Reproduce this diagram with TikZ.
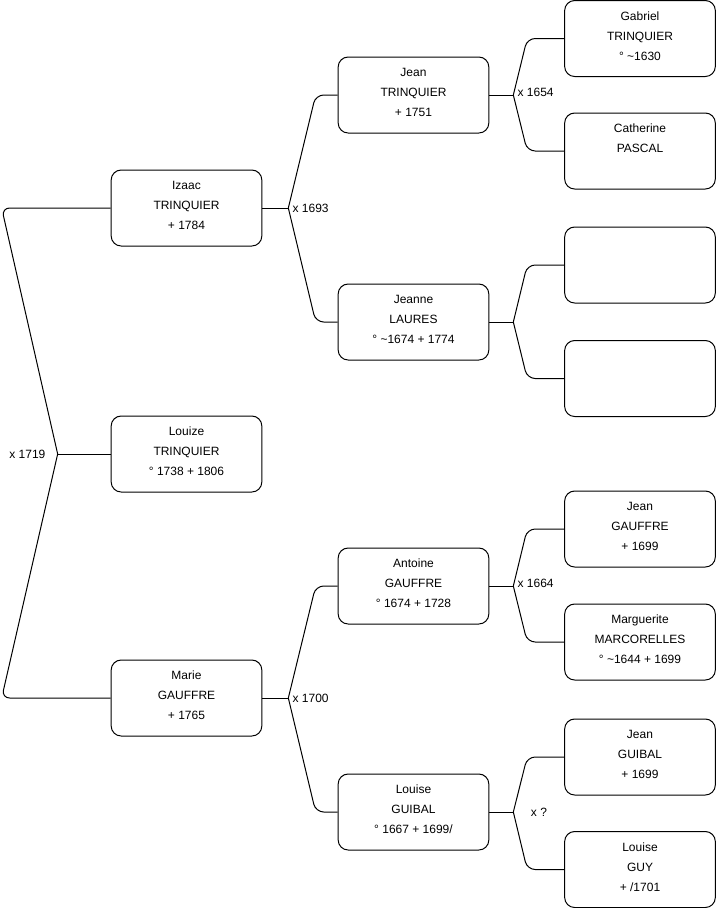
\documentclass[tikz,border=0pt]{standalone}
\usepackage{fontspec}
\setmainfont{Liberation Sans}
\begin{document}
\begin{tikzpicture}[x=0.75pt,y=-0.75pt,
    person/.style={draw,rounded corners=7.5pt,minimum width=113pt,minimum height=57pt,
      align=center,font=\fontsize{9}{15}\selectfont,text depth=4pt,line width=0.75pt},
    branch/.style={rounded corners=6pt,line width=0.75pt},
    union/.style={font=\fontsize{9}{11}\selectfont,inner sep=3pt}]
    \useasboundingbox (0,0) rectangle (716,908);
    % generation 1
    \node[person] (louize) at (186.5,454) {Louize\\TRINQUIER\\° 1738 + 1806};
    \node[person] (izaac) at (186.5,208) {Izaac\\TRINQUIER\\+ 1784};
    \node[person] (marie) at (186.5,698) {Marie\\GAUFFRE\\+ 1765};
    % generation 2
    \node[person] (jean) at (413.5,95) {Jean\\TRINQUIER\\+ 1751};
    \node[person] (jeanne) at (413.5,322) {Jeanne\\LAURES\\° \textasciitilde1674 + 1774};
    \node[person] (antoine) at (413.5,586) {Antoine\\GAUFFRE\\° 1674 + 1728};
    \node[person] (louiseg) at (413.5,812) {Louise\\GUIBAL\\° 1667 + 1699/};
    % generation 3
    \node[person] (gabriel) at (640,38.5) {Gabriel\\TRINQUIER\\° \textasciitilde1630};
    \node[person] (catherine) at (640,151) {Catherine\\PASCAL\\\mbox{}};
    \node[person] (unknowna) at (640,265) {};
    \node[person] (unknownb) at (640,378.5) {};
    \node[person] (jeang) at (640,529) {Jean\\GAUFFRE\\+ 1699};
    \node[person] (marguerite) at (640,642) {Marguerite\\MARCORELLES\\° \textasciitilde1644 + 1699};
    \node[person] (jeangb) at (640,757) {Jean\\GUIBAL\\+ 1699};
    \node[person] (louiseguy) at (640,869.5) {Louise\\GUY\\+ /1701};

    % parents of Louize
    \draw[line width=0.75pt] (louize.west) -- ++(-53,0) coordinate (r0);
    \draw[branch] (r0) -- ([xshift=-81.75pt]izaac.west) -- (izaac.west);
    \draw[branch] (r0) -- ([xshift=-81.75pt]marie.west) -- (marie.west);
    \node[union,left=6pt] (u0) at (r0) {x 1719};

    % parents of Izaac
    \draw[line width=0.75pt] (izaac.east) -- ++(26,0) coordinate (r1);
    \draw[branch] (r1) -- ([xshift=-16.5pt]jean.west) -- (jean.west);
    \draw[branch] (r1) -- ([xshift=-16.5pt]jeanne.west) -- (jeanne.west);
    \node[union,right] (u1) at (r1) {x 1693};

    % parents of Marie
    \draw[line width=0.75pt] (marie.east) -- ++(26,0) coordinate (r2);
    \draw[branch] (r2) -- ([xshift=-16.5pt]antoine.west) -- (antoine.west);
    \draw[branch] (r2) -- ([xshift=-16.5pt]louiseg.west) -- (louiseg.west);
    \node[union,right] (u2) at (r2) {x 1700};

    % parents of Jean
    \draw[line width=0.75pt] (jean.east) -- ++(24,0) coordinate (r3);
    \draw[branch] (r3) -- ([xshift=-27.75pt]gabriel.west) -- (gabriel.west);
    \draw[branch] (r3) -- ([xshift=-27.75pt]catherine.west) -- (catherine.west);
    \node[union,right,yshift=2pt] (u3) at (r3) {x 1654};

    % parents of Jeanne
    \draw[line width=0.75pt] (jeanne.east) -- ++(24,0) coordinate (r4);
    \draw[branch] (r4) -- ([xshift=-27.75pt]unknowna.west) -- (unknowna.west);
    \draw[branch] (r4) -- ([xshift=-27.75pt]unknownb.west) -- (unknownb.west);

    % parents of Antoine
    \draw[line width=0.75pt] (antoine.east) -- ++(24,0) coordinate (r5);
    \draw[branch] (r5) -- ([xshift=-27.75pt]jeang.west) -- (jeang.west);
    \draw[branch] (r5) -- ([xshift=-27.75pt]marguerite.west) -- (marguerite.west);
    \node[union,right,yshift=2pt] (u5) at (r5) {x 1664};

    % parents of Louise
    \draw[line width=0.75pt] (louiseg.east) -- ++(24,0) coordinate (r6);
    \draw[branch] (r6) -- ([xshift=-27.75pt]jeangb.west) -- (jeangb.west);
    \draw[branch] (r6) -- ([xshift=-27.75pt]louiseguy.west) -- (louiseguy.west);
    \node[union,right,xshift=10pt] (u6) at (r6) {x ?};
\end{tikzpicture}
\end{document}
